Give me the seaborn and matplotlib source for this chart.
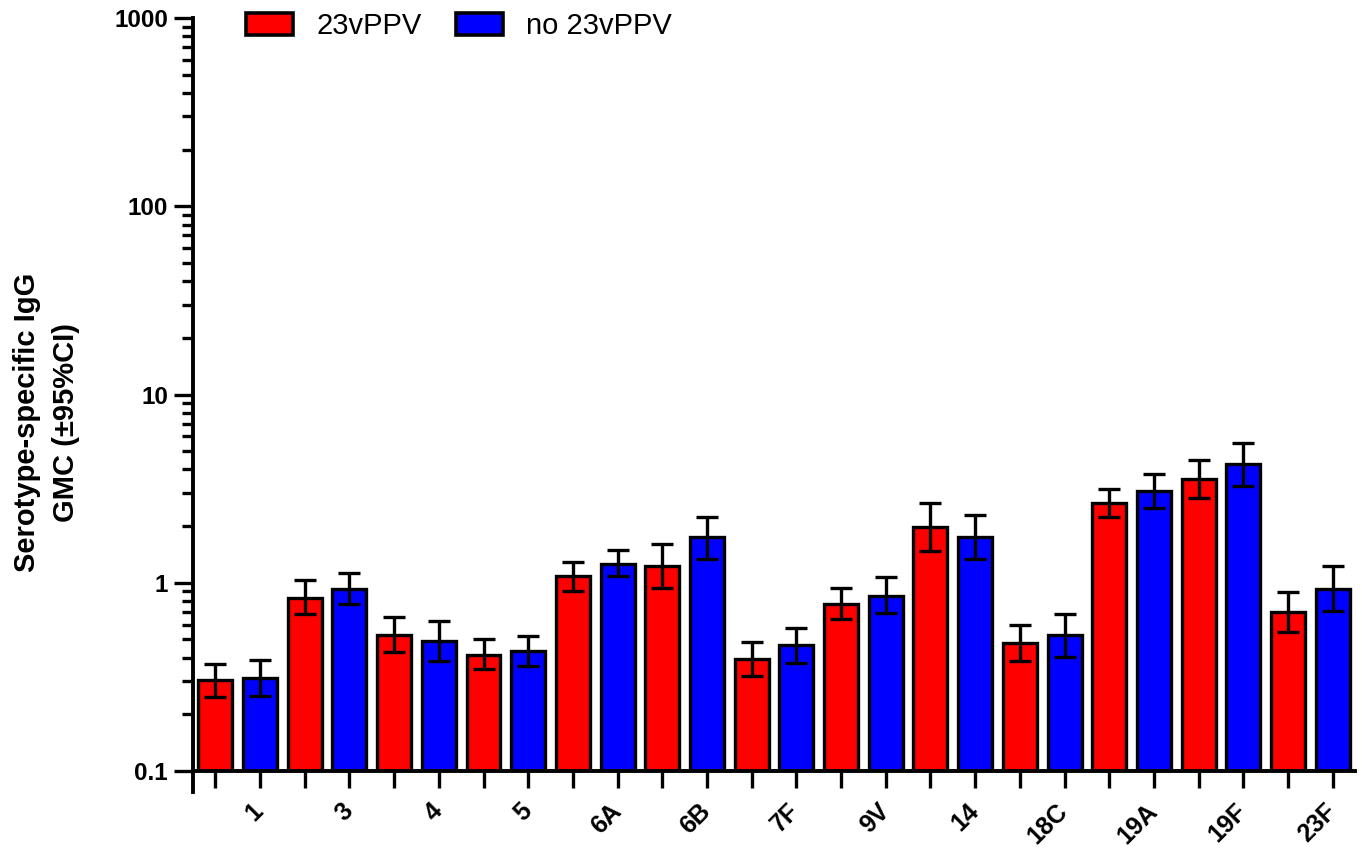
import matplotlib
matplotlib.use("Agg")
import matplotlib.pyplot as plt
import matplotlib.transforms as mtransforms
from matplotlib.patches import Patch
from matplotlib.ticker import LogLocator, NullFormatter, FixedLocator
import numpy as np
import pandas as pd
import seaborn as sns

serotypes = ["1", "3", "4", "5", "6A", "6B", "7F", "9V", "14", "18C", "19A", "19F", "23F"]
groups = ["23vPPV", "no 23vPPV"]

gmc_ppv = [0.305, 0.83, 0.53, 0.414, 1.08, 1.23, 0.394, 0.77, 1.98, 0.48, 2.66, 3.57, 0.70]
lo_ppv = [0.247, 0.684, 0.43, 0.35, 0.906, 0.94, 0.32, 0.64, 1.48, 0.385, 2.24, 2.83, 0.55]
hi_ppv = [0.37, 1.04, 0.66, 0.50, 1.29, 1.61, 0.486, 0.94, 2.66, 0.60, 3.16, 4.51, 0.895]

gmc_none = [0.312, 0.93, 0.49, 0.435, 1.26, 1.74, 0.47, 0.85, 1.76, 0.53, 3.09, 4.29, 0.93]
lo_none = [0.25, 0.77, 0.385, 0.36, 1.08, 1.33, 0.375, 0.69, 1.34, 0.404, 2.50, 3.28, 0.71]
hi_none = [0.39, 1.13, 0.63, 0.52, 1.50, 2.24, 0.576, 1.076, 2.30, 0.684, 3.80, 5.55, 1.23]

colors = ["#ff0000", "#0000ff"]

df = pd.DataFrame({
    "serotype": serotypes * 2,
    "group": [groups[0]] * len(serotypes) + [groups[1]] * len(serotypes),
    "gmc": gmc_ppv + gmc_none,
})

sns.set_style("ticks")
plt.rcParams["font.family"] = ["Liberation Sans", "DejaVu Sans"]
plt.rcParams.update({
    "text.color": "black",
    "axes.labelcolor": "black",
    "xtick.color": "black",
    "ytick.color": "black",
    "axes.edgecolor": "black",
})

fig = plt.figure(figsize=(13.62, 8.5), dpi=100)
ax = fig.add_axes([0.1417, 0.0929, 0.8532, 0.8859])

sns.barplot(data=df, x="serotype", y="gmc", hue="group", order=serotypes,
            hue_order=groups, palette=colors, width=1.0, gap=0.24,
            errorbar=None, edgecolor="black", linewidth=2.4,
            saturation=1, legend=False, ax=ax)

ax.set_yscale("log")
ax.set_ylim(0.1, 1000)
ax.set_xlim(-0.5, len(serotypes) - 0.5)

# confidence intervals on top of each bar
bar_x = []
for container, lo, hi in zip(ax.containers, [lo_ppv, lo_none], [hi_ppv, hi_none]):
    xs = np.array([p.get_x() + p.get_width() / 2 for p in container.patches])
    ys = np.array([p.get_height() for p in container.patches])
    bar_x.extend(xs)
    yerr = np.vstack([ys - np.array(lo), np.array(hi) - ys])
    ax.errorbar(xs, ys, yerr=yerr, fmt="none", ecolor="black",
                elinewidth=2.4, capsize=8, capthick=2.4, zorder=5)

# axes styling
for side in ["top", "right"]:
    ax.spines[side].set_visible(False)
for side in ["left", "bottom"]:
    ax.spines[side].set_linewidth(2.8)
    ax.spines[side].set_color("black")
ax.spines["left"].set_bounds(0.077, 1000)

ax.yaxis.set_major_locator(LogLocator(base=10, numticks=10))
ax.yaxis.set_minor_locator(LogLocator(base=10, subs=np.arange(2, 10), numticks=20))
ax.yaxis.set_minor_formatter(NullFormatter())
ax.set_yticks([0.1, 1, 10, 100, 1000])
ax.set_yticklabels(["0.1", "1", "10", "100", "1000"])
ax.tick_params(axis="y", which="major", length=14, width=2.4, labelsize=17.5, pad=4)
ax.tick_params(axis="y", which="minor", length=8, width=2.4)

# small tick under every bar, labels per serotype
ax.xaxis.set_minor_locator(FixedLocator(sorted(bar_x)))
ax.tick_params(axis="x", which="minor", length=12, width=2.4, bottom=True)
ax.tick_params(axis="x", which="major", length=0, pad=26, labelsize=18)
ax.set_xticks(range(len(serotypes)))
ax.set_xticklabels(serotypes, rotation=45, ha="right", va="center",
                   rotation_mode="anchor")
offset = mtransforms.ScaledTranslation(0.22, 0, fig.dpi_scale_trans)
for lbl in ax.get_xticklabels():
    lbl.set_transform(lbl.get_transform() + offset)
    lbl.set_fontweight("bold")
for lbl in ax.get_yticklabels():
    lbl.set_fontweight("bold")

ax.set_xlabel("")
ax.set_ylabel("Serotype-specific IgG\nGMC (\u00b195%CI)", fontsize=21,
              fontweight="bold", linespacing=1.5)
ax.yaxis.set_label_coords(-0.097, 0.463)

handles = [Patch(facecolor=c, edgecolor="black", linewidth=2.6, label=g)
           for c, g in zip(colors, groups)]
fig.legend(handles=handles, loc="upper left",
           bbox_to_anchor=(246 / 1362, 1 - 12 / 850),
           ncol=2, frameon=False, fontsize=21, handlelength=1.6,
           handleheight=0.75, handletextpad=0.8, columnspacing=1.2,
           borderpad=0, borderaxespad=0)

fig.savefig("out.png", dpi=100)
